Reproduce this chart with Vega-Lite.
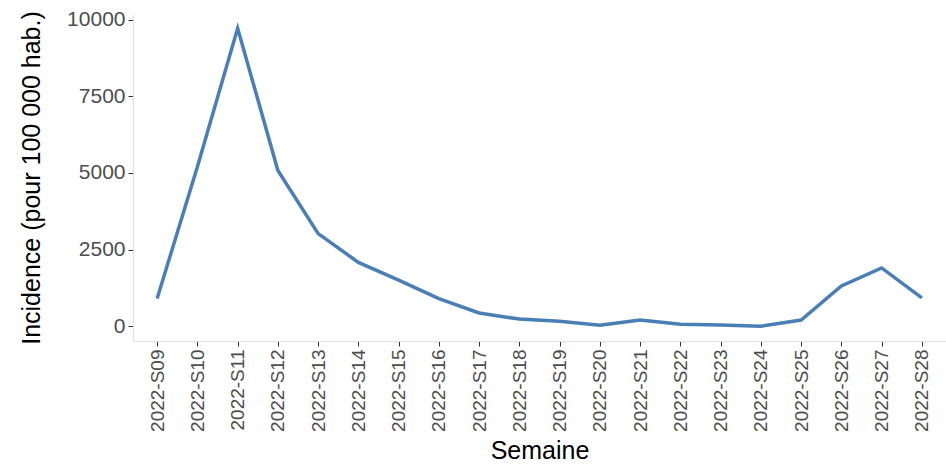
{
  "$schema": "https://vega.github.io/schema/vega-lite/v6.json",
  "width": 813,
  "height": 327,
  "autosize": "none",
  "padding": {"left": 133, "top": 14, "right": 0, "bottom": 124},
  "background": "white",
  "config": {
    "view": {"stroke": null},
    "font": "Liberation Sans",
    "axis": {
      "grid": false,
      "domainColor": "#e0e0e0",
      "domainWidth": 1,
      "tickColor": "#333333",
      "tickSize": 5,
      "labelFont": "Liberation Sans",
      "labelColor": "#4d4d4d",
      "labelFontSize": 19,
      "titleFont": "Liberation Sans",
      "titleFontSize": 25,
      "titleFontWeight": "normal",
      "titleColor": "#000000"
    }
  },
  "data": {
    "values": [
      {"semaine": "2022-S09", "incidence": 900},
      {"semaine": "2022-S10", "incidence": 5200},
      {"semaine": "2022-S11", "incidence": 9720},
      {"semaine": "2022-S12", "incidence": 5080},
      {"semaine": "2022-S13", "incidence": 3020},
      {"semaine": "2022-S14", "incidence": 2080},
      {"semaine": "2022-S15", "incidence": 1500},
      {"semaine": "2022-S16", "incidence": 900},
      {"semaine": "2022-S17", "incidence": 430},
      {"semaine": "2022-S18", "incidence": 230},
      {"semaine": "2022-S19", "incidence": 160},
      {"semaine": "2022-S20", "incidence": 30},
      {"semaine": "2022-S21", "incidence": 200},
      {"semaine": "2022-S22", "incidence": 60},
      {"semaine": "2022-S23", "incidence": 40},
      {"semaine": "2022-S24", "incidence": 0},
      {"semaine": "2022-S25", "incidence": 200},
      {"semaine": "2022-S26", "incidence": 1310},
      {"semaine": "2022-S27", "incidence": 1900},
      {"semaine": "2022-S28", "incidence": 920}
    ]
  },
  "mark": {"type": "line", "color": "#4a7fb6", "strokeWidth": 3.5},
  "encoding": {
    "x": {
      "field": "semaine",
      "type": "ordinal",
      "title": "Semaine",
      "scale": {"type": "point", "padding": 0.6},
      "axis": {"labelAngle": -90, "labelPadding": 3, "titlePadding": 7}
    },
    "y": {
      "field": "incidence",
      "type": "quantitative",
      "title": "Incidence (pour 100 000 hab.)",
      "scale": {"domain": [-485, 10185], "nice": false, "zero": false},
      "axis": {"values": [0, 2500, 5000, 7500, 10000], "format": "d", "labelFontSize": 21, "labelPadding": 3, "titlePadding": 22}
    }
  }
}
